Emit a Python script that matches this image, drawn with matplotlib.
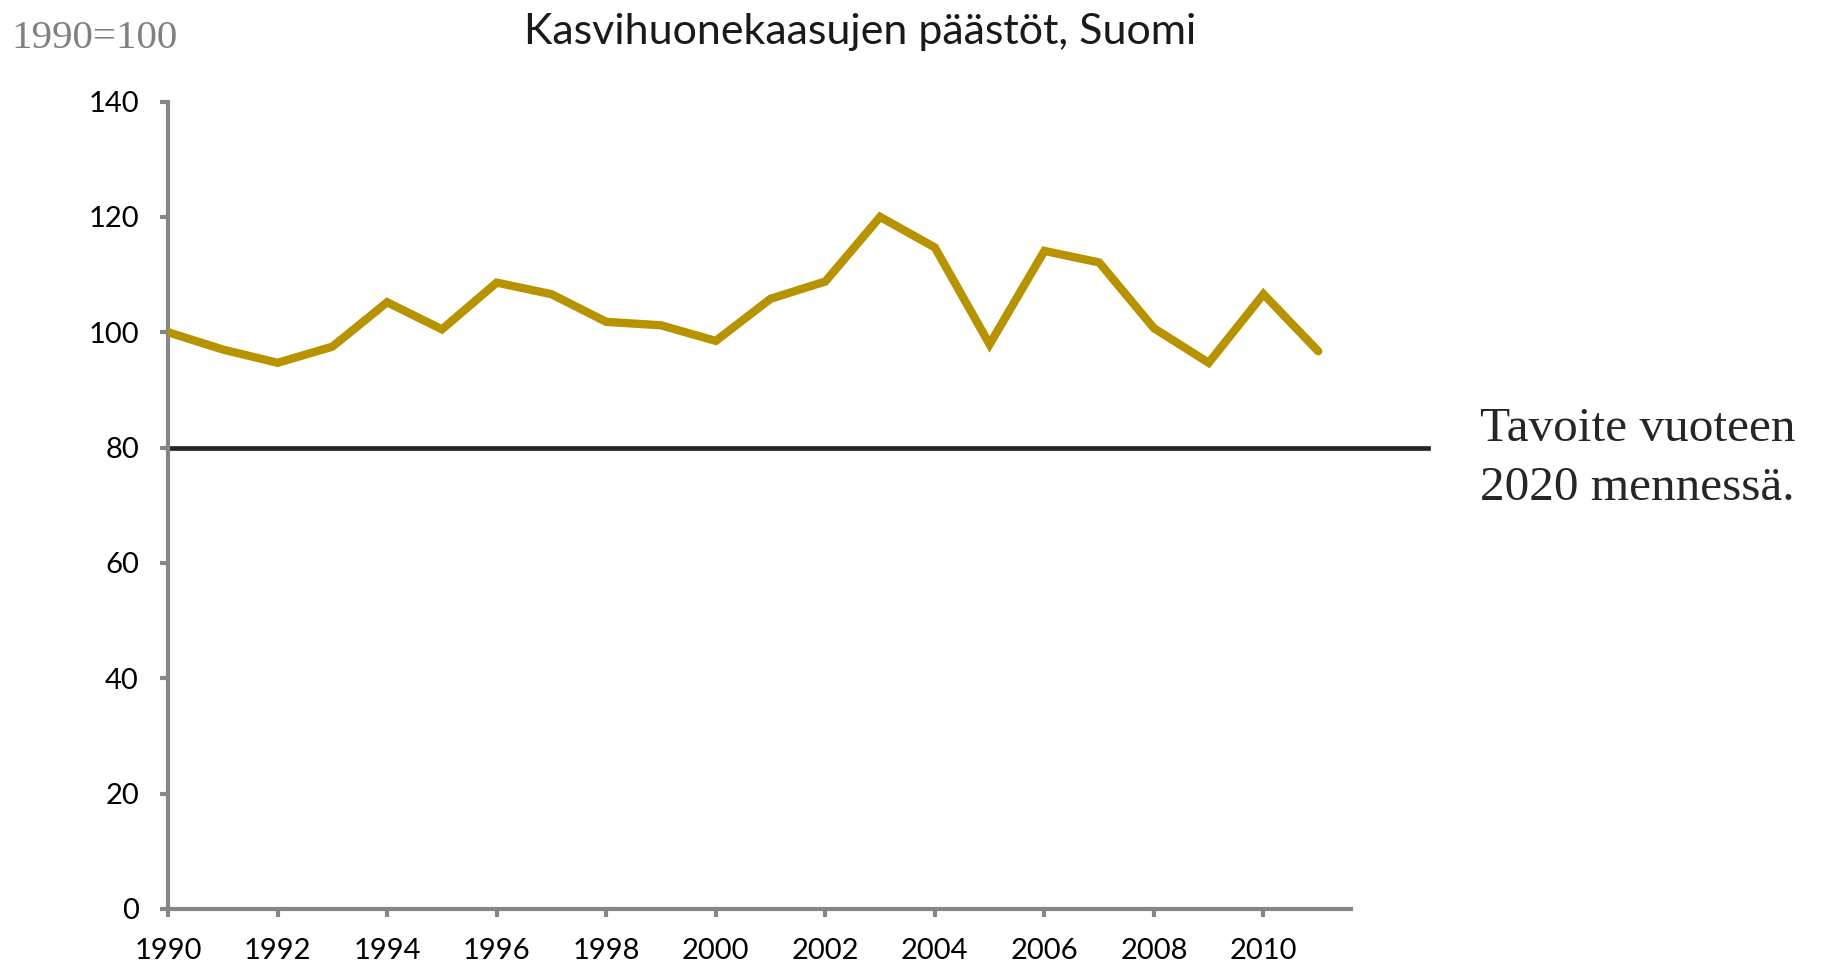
import matplotlib.pyplot as plt

# Greenhouse gas emissions, Finland (index 1990=100)
years = list(range(1990, 2012))
emissions = [100.0, 97.0, 94.7, 97.5, 105.2, 100.5, 108.6, 106.6, 101.8, 101.2, 98.5,
             105.8, 108.8, 120.0, 114.7, 97.9, 114.1, 112.1, 100.7, 94.7, 106.6, 96.7]
target_value = 80
target_end = 2013
x_ticks = list(range(1990, 2011, 2))
y_ticks = list(range(0, 141, 20))

fig = plt.figure(figsize=(18.29, 9.67), dpi=100)
ax = fig.add_axes([0.0919, 0.060, 0.6468, 0.835])

ax.plot(years, emissions, color='#B89300', lw=6, solid_joinstyle='miter',
        solid_capstyle='round', zorder=3)
ax.plot([years[0], target_end], [target_value, target_value], color='#262626', lw=3.4,
        clip_on=False, zorder=2)

ax.set_xlim(1990, 2011.6)
ax.set_ylim(0, 140)
ax.set_xticks(x_ticks)
ax.set_yticks(y_ticks)

for s in ['top', 'right']:
    ax.spines[s].set_visible(False)
for s in ['left', 'bottom']:
    ax.spines[s].set_color('#868686')
    ax.spines[s].set_linewidth(3)
ax.tick_params(axis='both', colors='#868686', width=3, length=6, labelcolor='black',
               labelsize=21, direction='out')
ax.tick_params(axis='x', pad=15)
ax.tick_params(axis='y', pad=15)
for lab in ax.get_xticklabels() + ax.get_yticklabels():
    lab.set_family('Lato')

fig.text(0.470, 0.955, 'Kasvihuonekaasujen päästöt, Suomi', ha='center', va='baseline',
         fontsize=31, family='Lato', color='#1a1a1a')
fig.text(0.006, 0.960, '1990=100', ha='left', va='center', fontsize=29.5,
         family='Liberation Serif', color='#808080')
fig.text(0.809, 0.556, 'Tavoite vuoteen', ha='left', va='center', fontsize=35.5,
         family='Liberation Serif', color='#262626')
fig.text(0.809, 0.495, '2020 mennessä.', ha='left', va='center', fontsize=35.5,
         family='Liberation Serif', color='#262626')

fig.savefig('out.png', dpi=100)
